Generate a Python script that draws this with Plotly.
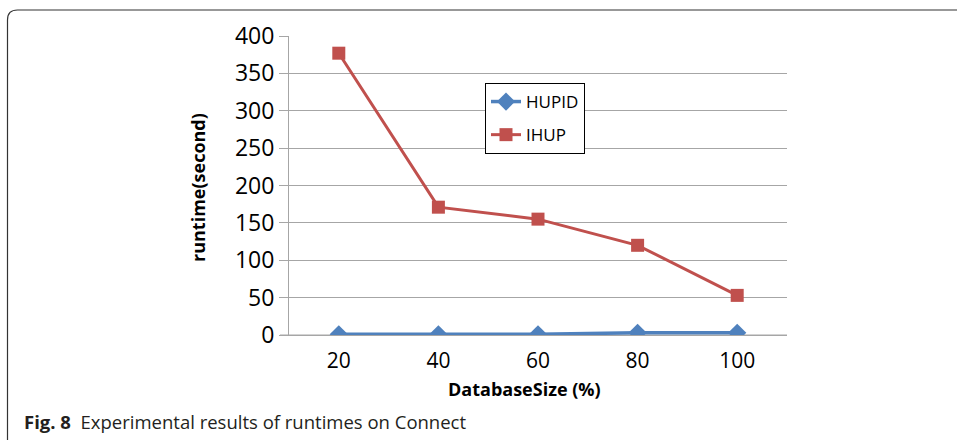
import plotly.graph_objects as go

categories = ["20", "40", "60", "80", "100"]
hupid = [1, 1, 1, 3, 3]
ihup = [377, 171, 155, 120, 53]
y_ticks = [0, 50, 100, 150, 200, 250, 300, 350, 400]

W, H = 957, 440
L, R, T, B = 289, 170, 36, 105
pw, ph = W - L - R, H - T - B

def px(x):
    return (x - L) / pw

def py(y):
    return (H - B - y) / ph

fig = go.Figure()
fig.add_trace(go.Scatter(
    x=categories, y=hupid, name="HUPID", mode="lines+markers", legendgroup="a",
    line=dict(color="#4F81BD", width=3.5),
    marker=dict(symbol="diamond", size=14, color="#4F81BD"),
))
fig.add_trace(go.Scatter(
    x=categories, y=ihup, name="IHUP", mode="lines+markers", legendgroup="b",
    line=dict(color="#C0504D", width=3),
    marker=dict(symbol="square", size=13, color="#C0504D"),
))

# frame with rounded top-left corner
r = 10
x0, y0 = px(7.5), py(10)
x1, yb = px(980), py(470)
rx, ry = r / pw, r / ph
frame_path = (f"M {x0},{yb} L {x0},{y0 - ry} Q {x0},{y0} {x0 + rx},{y0} L {x1},{y0}")

fig.update_layout(
    width=W, height=H,
    margin=dict(l=L, r=R, t=T, b=B),
    paper_bgcolor="white", plot_bgcolor="white",
    font=dict(family="Open Sans", color="#000000"),
    showlegend=True,
    legend=dict(
        x=px(485), y=py(83), xanchor="left", yanchor="top",
        bgcolor="white", bordercolor="#000000", borderwidth=1,
        font=dict(size=17, family="Open Sans"),
        itemwidth=30, tracegroupgap=8,
    ),
    xaxis=dict(
        type="category", range=[-0.5, 4.5],
        showgrid=False, zeroline=False,
        showline=True, linecolor="#A6A6A6", linewidth=1,
        ticks="outside", ticklen=7, tickcolor="rgba(0,0,0,0)",
        tickfont=dict(size=21, family="Open Sans"),
    ),
    yaxis=dict(
        range=[0, 400], tickvals=y_ticks,
        showgrid=True, gridcolor="#A6A6A6", gridwidth=1,
        showline=True, linecolor="#A6A6A6", linewidth=1,
        zeroline=False,
        ticks="outside", ticklen=9, tickcolor="#A6A6A6",
        tickfont=dict(size=23, family="Open Sans"),
    ),
    shapes=[
        dict(type="path", xref="paper", yref="paper", path=frame_path,
             line=dict(color="#333333", width=1.2), layer="above"),
        dict(type="line", xref="paper", yref="y", x0=px(280), x1=1, y0=0, y1=0,
             line=dict(color="#A6A6A6", width=1), layer="below"),
    ],
    annotations=[
        dict(text="<b>runtime(second)</b>", xref="paper", yref="paper",
             x=px(198), y=py(188), textangle=-90, showarrow=False,
             font=dict(size=18, family="Open Sans"), xanchor="center", yanchor="middle"),
        dict(text="<b>DatabaseSize (%)</b>", xref="paper", yref="paper",
             x=px(524), y=py(389), showarrow=False,
             font=dict(size=18, family="Open Sans"), xanchor="center", yanchor="middle"),
        dict(text="<b>Fig. 8</b>  Experimental results of runtimes on Connect",
             xref="paper", yref="paper", x=px(22), y=py(421), showarrow=False,
             font=dict(size=18.5, family="Open Sans", color="#231F20"),
             xanchor="left", yanchor="middle"),
    ],
)

fig.write_html("out.html")
